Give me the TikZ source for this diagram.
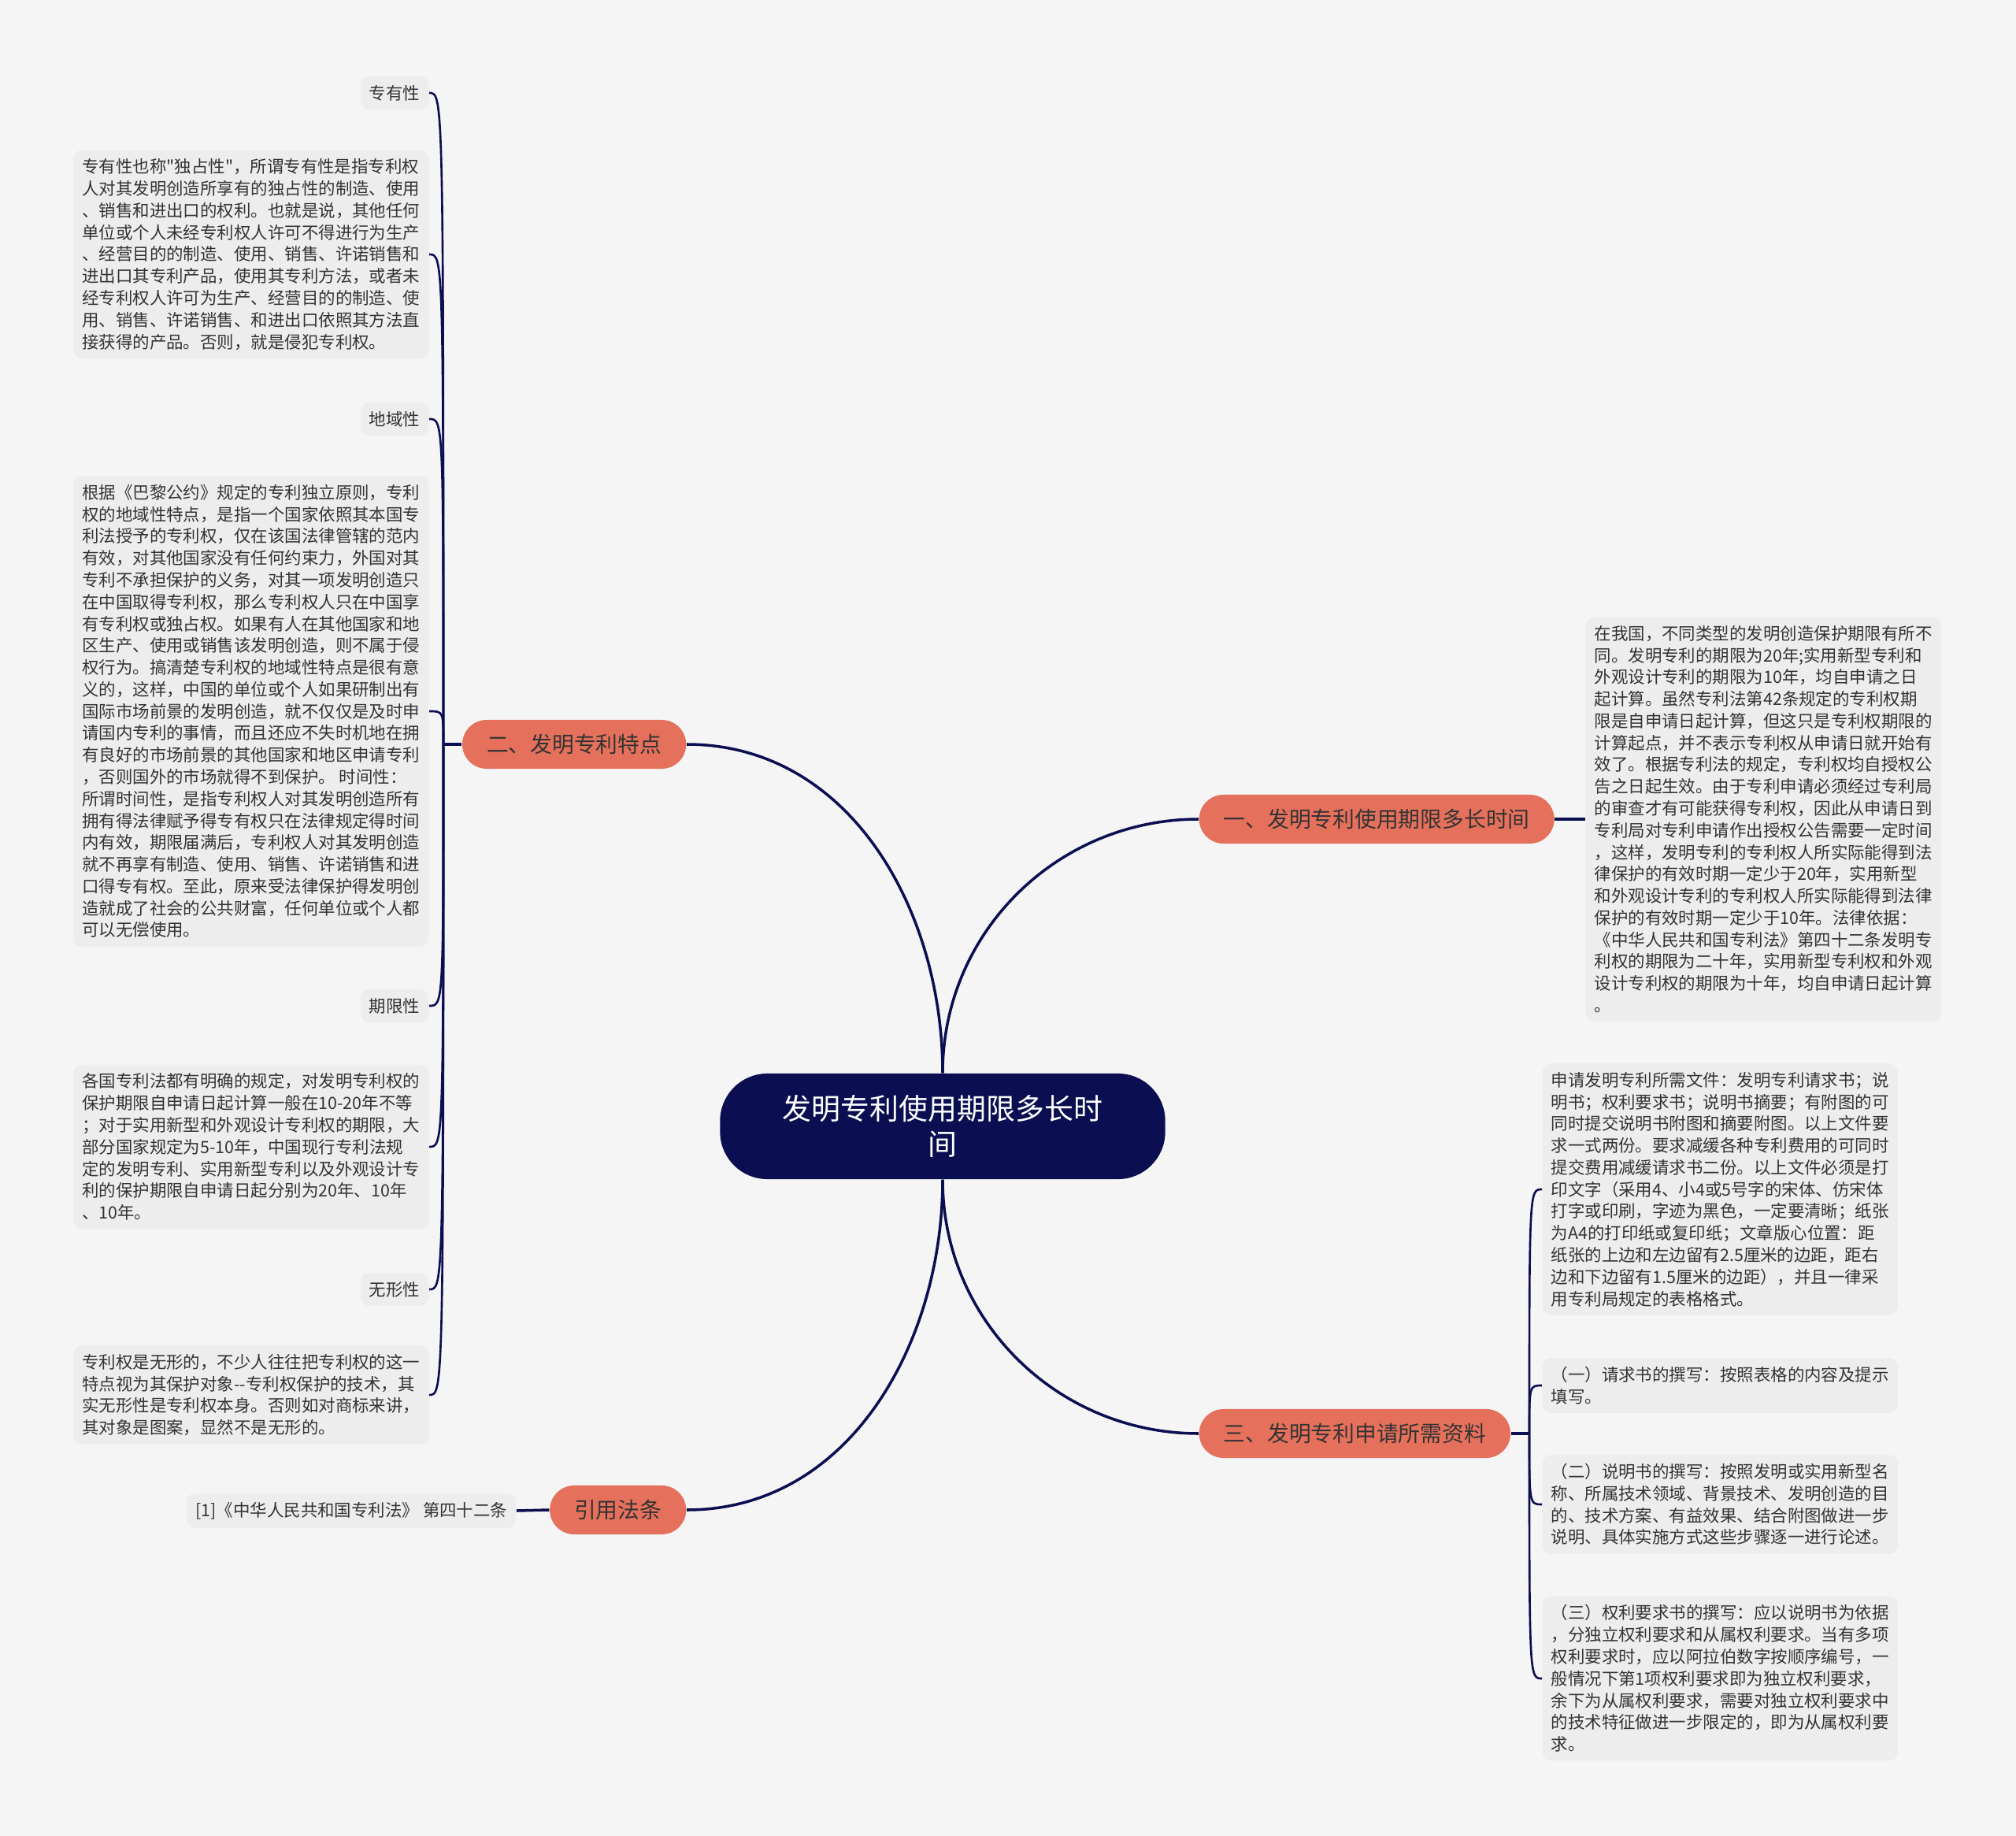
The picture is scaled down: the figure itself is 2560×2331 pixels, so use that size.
\documentclass[tikz,border=0pt]{standalone}
\usepackage{fontspec}
\setmainfont{Noto Sans CJK SC}[Ligatures=TeXOff]
\usetikzlibrary{positioning}
\definecolor{navy}{HTML}{0B0F52}
\definecolor{salmon}{HTML}{E5715C}
\definecolor{paper}{HTML}{F5F5F5}
\definecolor{leafbg}{HTML}{EDEDED}
\definecolor{ink}{HTML}{333333}

\begin{document}
\begin{tikzpicture}[
  x=0.01cm, y=0.01cm,
  root/.style={rectangle,rounded corners=0.6cm,fill=navy,text=white,align=center,
    minimum width=5.65cm,minimum height=1.34cm,font=\fontsize{10.5}{13}\selectfont},
  branch/.style={rectangle,rounded corners=0.31cm,fill=salmon,text=ink,
    minimum height=0.62cm,inner xsep=0.31cm,font=\fontsize{7.9}{9.5}\selectfont},
  leaf/.style={rectangle,rounded corners=3pt,fill=leafbg,text=ink,align=left,
    inner sep=0.11cm,font=\fontsize{6.1}{7.9}\selectfont},
  link/.style={draw=navy,line width=1pt},
  twig/.style={draw=navy,line width=0.75pt}
]
% Canvas
\fill[paper] (0,0) rectangle (2560,-2331);
\useasboundingbox (0,0) rectangle (2560,-2331);
% Root and main branches
\node[root] (T) at (1197,-1430) {发明专利使用期限多长时\\间};
\node[branch,anchor=west] (B1) at (1522,-1040) {一、发明专利使用期限多长时间};
\node[branch,anchor=east] (B2) at (872,-945) {二、发明专利特点};
\node[branch,anchor=west] (B3) at (1522,-1820) {三、发明专利申请所需资料};
\node[branch,anchor=east] (B4) at (872,-1917) {引用法条};
\draw[link] (T.north) to[out=90,in=180] (B1.west);
\draw[link] (T.north) to[out=90,in=0] (B2.east);
\draw[link] (T.south) to[out=-90,in=180] (B3.west);
\draw[link] (T.south) to[out=-90,in=0] (B4.east);
% Branch 1
\node[leaf,anchor=west] (Q1) at (2013,-1040) {在我国，不同类型的发明创造保护期限有所不\\
同。发明专利的期限为20年;实用新型专利和\\
外观设计专利的期限为10年，均自申请之日\\
起计算。虽然专利法第42条规定的专利权期\\
限是自申请日起计算，但这只是专利权期限的\\
计算起点，并不表示专利权从申请日就开始有\\
效了。根据专利法的规定，专利权均自授权公\\
告之日起生效。由于专利申请必须经过专利局\\
的审查才有可能获得专利权，因此从申请日到\\
专利局对专利申请作出授权公告需要一定时间\\
，这样，发明专利的专利权人所实际能得到法\\
律保护的有效时期一定少于20年，实用新型\\
和外观设计专利的专利权人所实际能得到法律\\
保护的有效时期一定少于10年。法律依据：\\
《中华人民共和国专利法》第四十二条发明专\\
利权的期限为二十年，实用新型专利权和外观\\
设计专利权的期限为十年，均自申请日起计算\\
。};
\draw[link] (B1.east) -- (Q1.west);
% Branch 2
\node[leaf,anchor=east] (L1) at (545,-118) {专有性};
\node[leaf,anchor=east] (L2) at (545,-323) {专有性也称"独占性"，所谓专有性是指专利权\\
人对其发明创造所享有的独占性的制造、使用\\
、销售和进出口的权利。也就是说，其他任何\\
单位或个人未经专利权人许可不得进行为生产\\
、经营目的的制造、使用、销售、许诺销售和\\
进出口其专利产品，使用其专利方法，或者未\\
经专利权人许可为生产、经营目的的制造、使\\
用、销售、许诺销售、和进出口依照其方法直\\
接获得的产品。否则，就是侵犯专利权。};
\node[leaf,anchor=east] (L3) at (545,-532) {地域性};
\node[leaf,anchor=east] (L4) at (545,-903) {根据《巴黎公约》规定的专利独立原则，专利\\
权的地域性特点，是指一个国家依照其本国专\\
利法授予的专利权，仅在该国法律管辖的范内\\
有效，对其他国家没有任何约束力，外国对其\\
专利不承担保护的义务，对其一项发明创造只\\
在中国取得专利权，那么专利权人只在中国享\\
有专利权或独占权。如果有人在其他国家和地\\
区生产、使用或销售该发明创造，则不属于侵\\
权行为。搞清楚专利权的地域性特点是很有意\\
义的，这样，中国的单位或个人如果研制出有\\
国际市场前景的发明创造，就不仅仅是及时申\\
请国内专利的事情，而且还应不失时机地在拥\\
有良好的市场前景的其他国家和地区申请专利\\
，否则国外的市场就得不到保护。 时间性：\\
所谓时间性，是指专利权人对其发明创造所有\\
拥有得法律赋予得专有权只在法律规定得时间\\
内有效，期限届满后，专利权人对其发明创造\\
就不再享有制造、使用、销售、许诺销售和进\\
口得专有权。至此，原来受法律保护得发明创\\
造就成了社会的公共财富，任何单位或个人都\\
可以无偿使用。};
\node[leaf,anchor=east] (L5) at (545,-1277) {期限性};
\node[leaf,anchor=east] (L6) at (545,-1456) {各国专利法都有明确的规定，对发明专利权的\\
保护期限自申请日起计算一般在10-20年不等\\
；对于实用新型和外观设计专利权的期限，大\\
部分国家规定为5-10年，中国现行专利法规\\
定的发明专利、实用新型专利以及外观设计专\\
利的保护期限自申请日起分别为20年、10年\\
、10年。};
\node[leaf,anchor=east] (L7) at (545,-1637) {无形性};
\node[leaf,anchor=east] (L8) at (545,-1771) {专利权是无形的，不少人往往把专利权的这一\\
特点视为其保护对象-{}-专利权保护的技术，其\\
实无形性是专利权本身。否则如对商标来讲，\\
其对象是图案，显然不是无形的。};
\coordinate (F2) at (563,-945);
\draw[link] (B2.west) -- (F2);
\foreach \n in {L1,L2,L3,L4,L5,L6,L7,L8}
  \draw[twig] (F2) .. controls (F2 |- \n.east) .. (\n.east);
% Branch 3
\node[leaf,anchor=west] (Q2) at (1958,-1510) {申请发明专利所需文件：发明专利请求书；说\\
明书；权利要求书；说明书摘要；有附图的可\\
同时提交说明书附图和摘要附图。以上文件要\\
求一式两份。要求减缓各种专利费用的可同时\\
提交费用减缓请求书二份。以上文件必须是打\\
印文字（采用4、小4或5号字的宋体、仿宋体\\
打字或印刷，字迹为黑色，一定要清晰；纸张\\
为A4的打印纸或复印纸；文章版心位置：距\\
纸张的上边和左边留有2.5厘米的边距，距右\\
边和下边留有1.5厘米的边距），并且一律采\\
用专利局规定的表格格式。};
\node[leaf,anchor=west] (Q3) at (1958,-1759) {（一）请求书的撰写：按照表格的内容及提示\\
填写。};
\node[leaf,anchor=west] (Q4) at (1958,-1910) {（二）说明书的撰写：按照发明或实用新型名\\
称、所属技术领域、背景技术、发明创造的目\\
的、技术方案、有益效果、结合附图做进一步\\
说明、具体实施方式这些步骤逐一进行论述。};
\node[leaf,anchor=west] (Q5) at (1958,-2131) {（三）权利要求书的撰写：应以说明书为依据\\
，分独立权利要求和从属权利要求。当有多项\\
权利要求时，应以阿拉伯数字按顺序编号，一\\
般情况下第1项权利要求即为独立权利要求，\\
余下为从属权利要求，需要对独立权利要求中\\
的技术特征做进一步限定的，即为从属权利要\\
求。};
\coordinate (F3) at (1942,-1820);
\draw[link] (B3.east) -- (F3);
\foreach \n in {Q2,Q3,Q4,Q5}
  \draw[twig] (F3) .. controls (F3 |- \n.west) .. (\n.west);
% Branch 4
\node[leaf,anchor=east] (C1) at (656,-1918) {{}[1]《中华人民共和国专利法》 第四十二条};
\draw[link] (C1.east) -- (B4.west);
\end{tikzpicture}
\end{document}
